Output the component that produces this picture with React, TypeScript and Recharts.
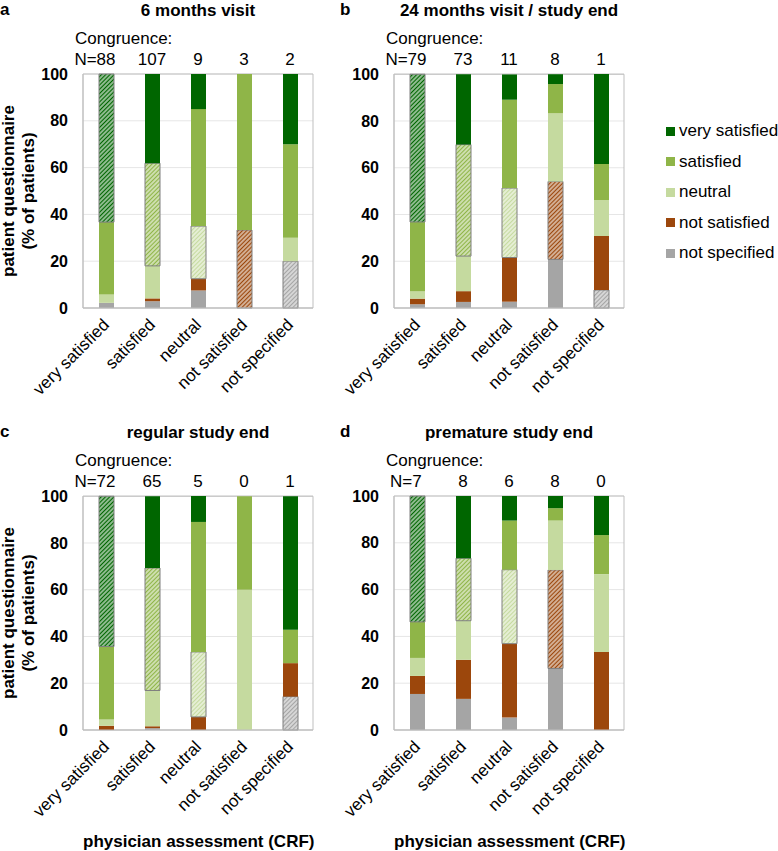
import { BarChart, Bar, Cell, XAxis, YAxis, CartesianGrid, ReferenceArea } from 'recharts'

const FONT = '"Liberation Sans", Arial, sans-serif'

// physician assessment categories (x axis)
const categories = ['very satisfied', 'satisfied', 'neutral', 'not satisfied', 'not specified']
const yTicks = [0, 20, 40, 60, 80, 100]

// patient answers, % of patients per physician category
const a_verySatisfied = [63.3, 38.1, 15, 0, 30]
const a_satisfied = [30.9, 43.9, 50, 66.7, 40]
const a_neutral = [3.6, 13.9, 22.5, 0, 10]
const a_notSatisfied = [0, 1.2, 5, 33.3, 0]
const a_notSpecified = [2.2, 2.9, 7.5, 0, 20]
const a_congruence = [88, 107, 9, 3, 2]

const b_verySatisfied = [63.2, 30.1, 10.8, 4.2, 38.5]
const b_satisfied = [29.6, 47.7, 37.8, 12.5, 15.4]
const b_neutral = [3.2, 15.0, 29.7, 29.2, 15.4]
const b_notSatisfied = [2.4, 4.6, 18.9, 33.3, 23.1]
const b_notSpecified = [1.6, 2.6, 2.7, 20.8, 7.7]
const b_congruence = [79, 73, 11, 8, 1]

const c_verySatisfied = [64.3, 30.7, 11.1, 0, 57.1]
const c_satisfied = [31.2, 52.4, 55.6, 40, 14.3]
const c_neutral = [2.7, 15.3, 27.8, 60, 0]
const c_notSatisfied = [1.8, 0.8, 5.6, 0, 14.3]
const c_notSpecified = [0, 0.8, 0, 0, 14.3]
const c_congruence = [72, 65, 5, 0, 1]

const d_verySatisfied = [53.8, 26.6, 10.5, 5.2, 16.7]
const d_satisfied = [15.4, 26.7, 21.0, 5.3, 16.7]
const d_neutral = [7.7, 16.7, 31.6, 21.1, 33.3]
const d_notSatisfied = [7.7, 16.7, 31.6, 42.1, 33.3]
const d_notSpecified = [15.4, 13.3, 5.3, 26.3, 0]
const d_congruence = [7, 8, 6, 8, 0]

// in category order; index matches the x category that counts as congruent
const series = [
  { key: 'verySatisfied', name: 'very satisfied', color: '#006600' },
  { key: 'satisfied', name: 'satisfied', color: '#8FB548' },
  { key: 'neutral', name: 'neutral', color: '#C5DA9F' },
  { key: 'notSatisfied', name: 'not satisfied', color: '#9C470C' },
  { key: 'notSpecified', name: 'not specified', color: '#A5A5A5' },
]
const stackOrder = [...series].reverse()

interface Panel {
  id: string
  title: string
  left: number
  top: number
  values: Record<string, number[]>
  congruence: number[]
  yLabel: boolean
  xTitle: boolean
}

const panels: Panel[] = [
  {
    id: 'a', title: '6 months visit', left: 0, top: 0,
    values: { verySatisfied: a_verySatisfied, satisfied: a_satisfied, neutral: a_neutral, notSatisfied: a_notSatisfied, notSpecified: a_notSpecified },
    congruence: a_congruence, yLabel: true, xTitle: false,
  },
  {
    id: 'b', title: '24 months visit / study end', left: 311, top: 0,
    values: { verySatisfied: b_verySatisfied, satisfied: b_satisfied, neutral: b_neutral, notSatisfied: b_notSatisfied, notSpecified: b_notSpecified },
    congruence: b_congruence, yLabel: false, xTitle: false,
  },
  {
    id: 'c', title: 'regular study end', left: 0, top: 422,
    values: { verySatisfied: c_verySatisfied, satisfied: c_satisfied, neutral: c_neutral, notSatisfied: c_notSatisfied, notSpecified: c_notSpecified },
    congruence: c_congruence, yLabel: true, xTitle: true,
  },
  {
    id: 'd', title: 'premature study end', left: 311, top: 422,
    values: { verySatisfied: d_verySatisfied, satisfied: d_satisfied, neutral: d_neutral, notSatisfied: d_notSatisfied, notSpecified: d_notSpecified },
    congruence: d_congruence, yLabel: false, xTitle: true,
  },
]

function XTick(props: any) {
  const { x, y, payload } = props
  return (
    <g transform={`translate(${x},${y})`}>
      <text
        x={0}
        y={0}
        dx={-4}
        dy={10}
        transform="rotate(-45)"
        textAnchor="end"
        fontSize={17}
        fontFamily={FONT}
        fill="#000"
      >
        {payload.value}
      </text>
    </g>
  )
}

function CongruenceTick(props: any) {
  const { x, y, payload, values } = props
  const i = categories.indexOf(payload.value)
  const v = String(values[i])
  return (
    <g>
      <text x={x} y={y - 9} textAnchor="middle" fontSize={17} fontFamily={FONT} fill="#000">
        {v}
      </text>
      {i === 0 && (
        <text x={x - v.length * 4.7} y={y - 9} textAnchor="end" fontSize={17} fontFamily={FONT} fill="#000">
          N=
        </text>
      )}
    </g>
  )
}

function PanelChart({ panel }: { panel: Panel }) {
  const rows = categories.map((cat, i) => {
    const row: Record<string, any> = { cat }
    for (const s of series) row[s.key] = panel.values[s.key][i]
    return row
  })

  return (
    <div style={{ position: 'absolute', left: panel.left, top: panel.top }}>
      <BarChart width={320} height={420} data={rows} margin={{ top: 70, right: 7, bottom: 12, left: 0 }}>
        <defs>
          {series.map((s) => (
            <pattern
              key={s.key}
              id={`hatch-${panel.id}-${s.key}`}
              patternUnits="userSpaceOnUse"
              width={3}
              height={3}
              patternTransform="rotate(45)"
            >
              <rect width={3} height={3} fill="#fff" />
              <line x1={1.5} y1={0} x2={1.5} y2={3} stroke={s.color} strokeWidth={1.9} />
            </pattern>
          ))}
        </defs>
        <CartesianGrid vertical={false} stroke="#E6E6E6" />
        <XAxis
          dataKey="cat"
          height={100}
          interval={0}
          tickLine={false}
          axisLine={{ stroke: '#BFBFBF' }}
          tick={<XTick />}
        />
        <XAxis
          xAxisId="top"
          orientation="top"
          dataKey="cat"
          height={4}
          interval={0}
          tickLine={false}
          axisLine={false}
          tickSize={0}
          tickMargin={0}
          tick={(p: any) => <CongruenceTick {...p} values={panel.congruence} />}
        />
        <YAxis
          domain={[0, 100]}
          ticks={yTicks}
          width={83}
          tickLine={false}
          tickMargin={9}
          axisLine={{ stroke: '#BFBFBF' }}
          tick={{ fill: '#000', fontSize: 16, fontWeight: 'bold', fontFamily: FONT }}
        />
        {stackOrder.map((s) => {
          const k = series.indexOf(s)
          return (
            <Bar key={s.key} dataKey={s.key} name={s.name} stackId="p" barSize={15} fill={s.color} isAnimationActive={false}>
              {rows.map((r, i) => (
                <Cell
                  key={r.cat}
                  fill={i === k ? `url(#hatch-${panel.id}-${s.key})` : s.color}
                  stroke={i === k ? '#7F7F7F' : 'none'}
                  strokeWidth={1}
                />
              ))}
            </Bar>
          )
        })}
        <ReferenceArea y1={0} y2={100} fill="none" stroke="#BFBFBF" ifOverflow="visible" />
      </BarChart>
    </div>
  )
}

const bold: React.CSSProperties = { position: 'absolute', fontWeight: 'bold', fontSize: 17, whiteSpace: 'nowrap' }

export default function App() {
  return (
    <div style={{ position: 'absolute', left: 0, top: 0, width: 778, height: 851, fontFamily: FONT, color: '#000', background: '#fff' }}>
      {panels.map((p) => (
        <div key={p.id}>
          <PanelChart panel={p} />
          <div style={{ ...bold, left: p.left + (p.left ? 29 : 0), top: p.top, lineHeight: '20px' }}>{p.id}</div>
          <div style={{ ...bold, left: p.left + 83, width: 230, textAlign: 'center', top: p.top + 1, lineHeight: '20px' }}>
            {p.title}
          </div>
          <div style={{ position: 'absolute', left: p.left + 75, top: p.top + 29, fontSize: 17, lineHeight: '20px' }}>
            Congruence:
          </div>
          {p.yLabel && (
            <div
              style={{
                ...bold,
                left: 19 - 120,
                top: p.top + 191 - 20,
                width: 240,
                height: 40,
                lineHeight: '20px',
                textAlign: 'center',
                transform: 'rotate(-90deg)',
              }}
            >
              patient questionnaire
              <br />
              (% of patients)
            </div>
          )}
          {p.xTitle && (
            <div style={{ ...bold, left: p.left + 83, width: 230, textAlign: 'center', top: p.top + 410, lineHeight: '20px' }}>
              physician assessment (CRF)
            </div>
          )}
        </div>
      ))}
      {series.map((s, i) => (
        <div key={s.key} style={{ position: 'absolute', left: 666, top: 121 + i * 30.5, height: 20, display: 'flex', alignItems: 'center' }}>
          <div style={{ width: 9, height: 9, background: s.color, marginRight: 4 }} />
          <span style={{ fontSize: 17, lineHeight: '20px', whiteSpace: 'nowrap' }}>{s.name}</span>
        </div>
      ))}
    </div>
  )
}
